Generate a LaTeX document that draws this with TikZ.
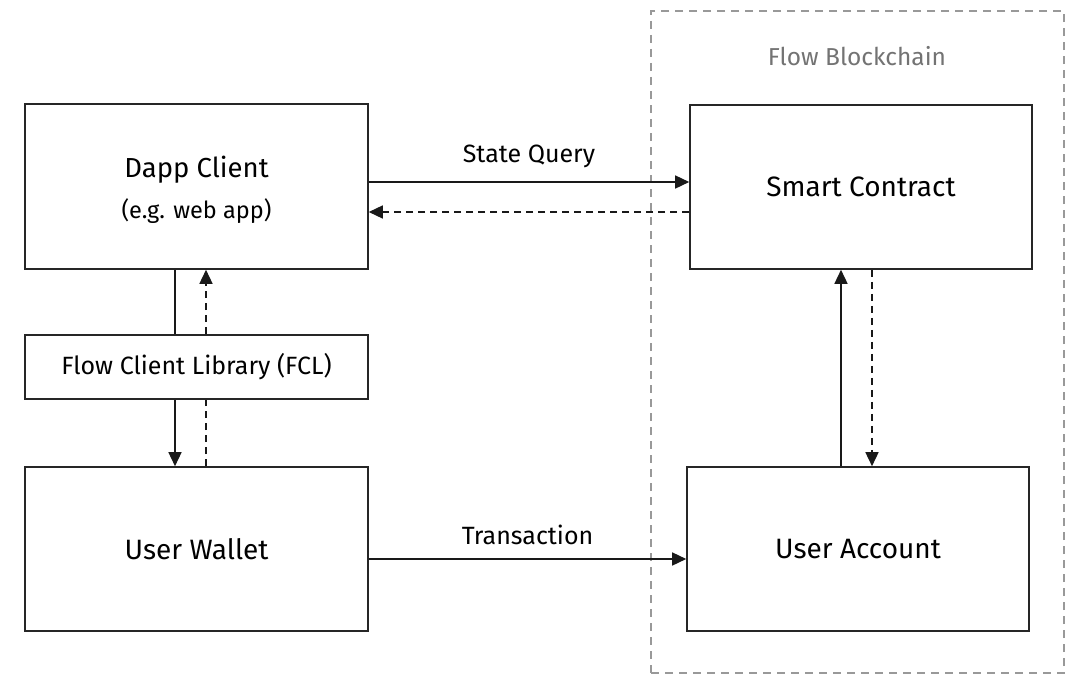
\documentclass[tikz,border=0pt]{standalone}
\usepackage{fontspec}
\setmainfont{Fira Sans}
\usetikzlibrary{arrows.meta}
\begin{document}
\begin{tikzpicture}[x=1pt,y=-1pt,
  box/.style={draw=black!85,line width=1.6pt,minimum width=343pt,inner sep=0pt},
  big/.style={font=\fontsize{28}{32}\selectfont},
  conn/.style={line width=1.5pt,draw=black!90,-{Triangle[length=14pt,width=13pt]}},
  back/.style={conn,dash pattern=on 7pt off 5pt},
  lbl/.style={font=\fontsize{25}{28}\selectfont}]
\useasboundingbox (0,0) rectangle (1080,688);
\fill[white] (0,0) rectangle (1080,688);
% container
\node[draw=black!40,line width=1.5pt,dash pattern=on 8pt off 6pt,minimum width=413pt,minimum height=662pt,inner sep=0pt] (chain) at (857.5,342) {};
\node[text=black!55,font=\fontsize{24.5}{28}\selectfont] (chainlbl) at (857,56) {Flow Blockchain};
% boxes
\node[box,minimum height=165pt,align=center] (dapp) at (196.5,186.5) {};
\node[font=\fontsize{27.5}{32}\selectfont] (dapptitle) at (196.5,170) {Dapp Client};
\node[font=\fontsize{23.5}{28}\selectfont] (dappsub) at (196.5,211) {(e.g. web app)};
\node[box,minimum height=64pt,font=\fontsize{25}{28}\selectfont] (fcl) at (196.5,367) {Flow Client Library (FCL)};
\node[box,minimum height=164pt,big] (wallet) at (196.5,549) {User Wallet};
\node[box,minimum height=164pt,minimum width=342pt,big] (sc) at (861,187) {Smart Contract};
\node[box,minimum height=164pt,minimum width=342pt,big] (ua) at (858,549) {User Account};
% connectors
\draw[conn] (dapp.east |- 0,182) -- (sc.west |- 0,182) node[midway,above=10pt,lbl,text=black] (sqlbl) {State Query};
\draw[back] (sc.west |- 0,212) -- (dapp.east |- 0,212);
\draw[line width=1.5pt,draw=black!90] (dapp.south -| 175,0) -- (fcl.north -| 175,0);
\draw[back] (fcl.north -| 206,0) -- (dapp.south -| 206,0);
\draw[conn] (fcl.south -| 175,0) -- (wallet.north -| 175,0);
\draw[line width=1.5pt,draw=black!90,dash pattern=on 7pt off 5pt] (wallet.north -| 206,0) -- (fcl.south -| 206,0);
\draw[conn] (wallet.east |- 0,559) -- (ua.west |- 0,559) node[midway,above=10pt,lbl,text=black] (txlbl) {Transaction};
\draw[conn] (ua.north -| 841,0) -- (sc.south -| 841,0);
\draw[back] (sc.south -| 872,0) -- (ua.north -| 872,0);
\end{tikzpicture}
\end{document}
